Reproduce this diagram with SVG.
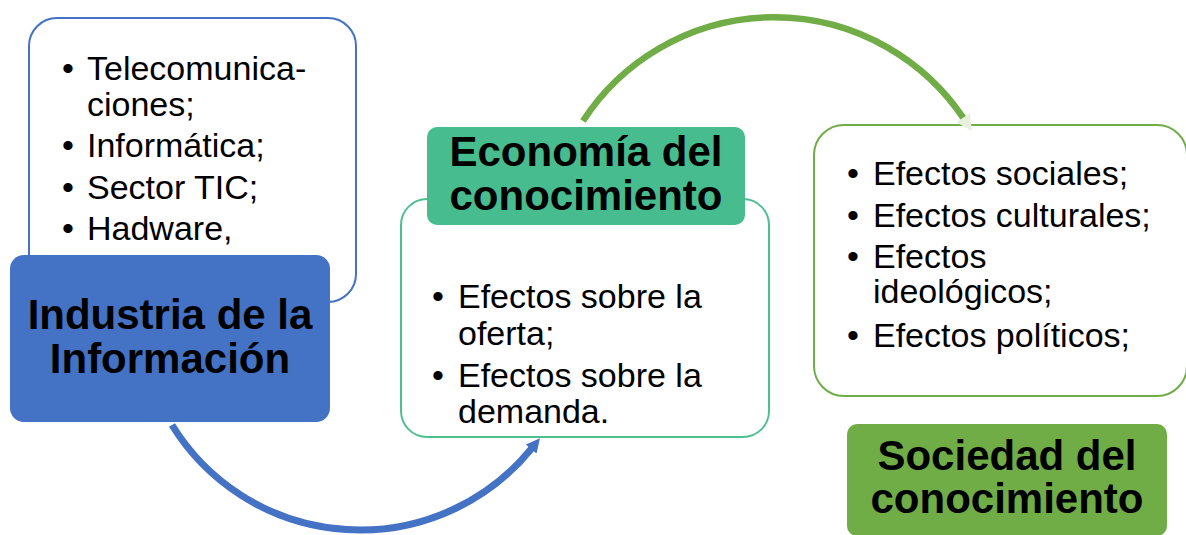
<svg xmlns="http://www.w3.org/2000/svg" width="1186" height="535" viewBox="0 0 1186 535">
<defs>
<style>
.t{font-family:"Liberation Sans",Arial,sans-serif;font-size:34px;fill:#000}
.b{text-anchor:middle}
.h{font-family:"Liberation Sans",Arial,sans-serif;font-size:42px;font-weight:bold;fill:#000;text-anchor:middle}
.lb{fill:#fff;stroke:#4472C4;stroke-width:2}
.lg{fill:#fff;stroke:#4FBF92;stroke-width:2}
.lr{fill:#fff;stroke:#70AD47;stroke-width:2}
</style>
<marker id="ab" markerUnits="userSpaceOnUse" markerWidth="14" markerHeight="14" viewBox="0 0 10 10" refX="1" refY="5" orient="auto"><path d="M0,0 L10,5 L0,10 z" fill="#4472C4"/></marker>
<marker id="ag" markerUnits="userSpaceOnUse" markerWidth="16" markerHeight="16" viewBox="0 0 10 10" refX="1" refY="5" orient="auto"><path d="M0,0 L10,5 L0,10 z" fill="#E6F0DE"/></marker>
</defs>
<g id="industria-lista">
<rect class="lb" x="29" y="18" width="327" height="284" rx="28"/>
<text class="t b" x="68" y="80">•</text><text class="t" x="87" y="80">Telecomunica-</text>
<text class="t" x="87" y="116">ciones;</text>
<text class="t b" x="68" y="157">•</text><text class="t" x="87" y="157">Informática;</text>
<text class="t b" x="68" y="199">•</text><text class="t" x="87" y="199">Sector TIC;</text>
<text class="t b" x="68" y="240">•</text><text class="t" x="87" y="240">Hadware,</text>
</g>
<g id="industria">
<rect x="10" y="255" width="320" height="167" rx="14" fill="#4472C4"/>
<text class="h" x="170" y="329">Industria de la</text>
<text class="h" x="170" y="373">Información</text>
</g>
<g id="economia-lista">
<rect class="lg" x="401" y="199" width="368" height="238" rx="26"/>
<text class="t b" x="438" y="308">•</text><text class="t" x="458" y="308">Efectos sobre la</text>
<text class="t" x="458" y="345">oferta;</text>
<text class="t b" x="438" y="387">•</text><text class="t" x="458" y="387">Efectos sobre la</text>
<text class="t" x="458" y="423">demanda.</text>
</g>
<g id="economia">
<rect x="427" y="127" width="318" height="98" rx="10" fill="#47BC8E"/>
<text class="h" x="586" y="166">Economía del</text>
<text class="h" x="586" y="210">conocimiento</text>
</g>
<g id="sociedad-lista">
<rect class="lr" x="814" y="125" width="373" height="271" rx="30"/>
<text class="t b" x="853" y="185">•</text><text class="t" x="873" y="185">Efectos sociales;</text>
<text class="t b" x="853" y="227">•</text><text class="t" x="873" y="227">Efectos culturales;</text>
<text class="t b" x="853" y="268">•</text><text class="t" x="873" y="268">Efectos</text>
<text class="t" x="873" y="303">ideológicos;</text>
<text class="t b" x="853" y="347">•</text><text class="t" x="873" y="347">Efectos políticos;</text>
</g>
<g id="sociedad">
<rect x="847" y="424" width="320" height="112" rx="10" fill="#70AD47"/>
<text class="h" x="1007" y="470">Sociedad del</text>
<text class="h" x="1007" y="513">conocimiento</text>
</g>
<g id="conectores" fill="none">
<path d="M172,425 A221,221 0 0 0 532,448" stroke="#4472C4" stroke-width="7" marker-end="url(#ab)"/>
<path d="M583,121 A228,228 0 0 1 964,119" stroke="#70AD47" stroke-width="6.5" marker-end="url(#ag)"/>
</g>
</svg>
